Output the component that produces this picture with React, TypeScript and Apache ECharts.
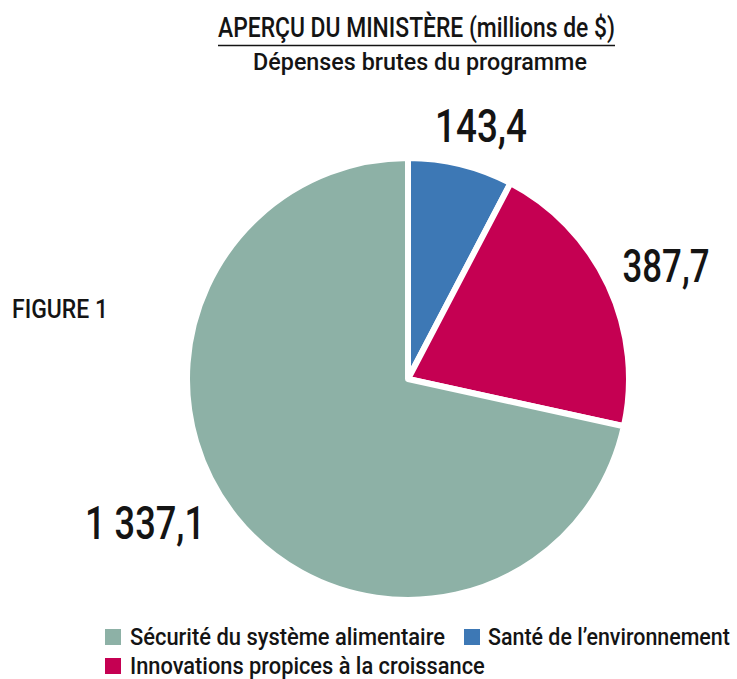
import React, { useEffect, useRef } from "react";
import * as echarts from "echarts";

const categories = [
  "Santé de l’environnement",
  "Innovations propices à la croissance",
  "Sécurité du système alimentaire",
];
const values = [143.4, 387.7, 1337.1];
const colors = ["#3d78b5", "#c50052", "#8db1a6"];
const legendOrder = [
  "Sécurité du système alimentaire",
  "Santé de l’environnement",
  "Innovations propices à la croissance",
];
const titleText = "APERÇU DU MINISTÈRE (millions de $)";
const subtitleText = "Dépenses brutes du programme";
const figureText = "FIGURE 1";

const FONT = "Roboto, 'Noto Sans', sans-serif";
const INK = "#141414";

function fmt(v: number): string {
  const [i, d] = v.toFixed(1).split(".");
  const withSpaces = i.replace(/\B(?=(\d{3})+(?!\d))/g, " ");
  return withSpaces + "," + d;
}

let measureCtx: CanvasRenderingContext2D | null = null;
function measure(text: string, size: number, weight: number): number {
  if (!measureCtx) measureCtx = document.createElement("canvas").getContext("2d");
  if (!measureCtx) return text.length * size * 0.5;
  measureCtx.font = `${weight} ${size}px ${FONT}`;
  return measureCtx.measureText(text).width;
}

// condensed text: fit text to a target width by horizontal scaling
function ctext(
  text: string,
  x: number,
  y: number,
  size: number,
  weight: number,
  targetWidth: number,
  align: "left" | "center" = "left"
) {
  const w = measure(text, size, weight);
  const sx = w > 0 ? targetWidth / w : 1;
  return {
    type: "text",
    x,
    y,
    scaleX: sx,
    silent: true,
    style: {
      text,
      fill: INK,
      font: `${weight} ${size}px ${FONT}`,
      align,
      verticalAlign: "middle",
    },
  };
}

export default function App() {
  const ref = useRef<HTMLDivElement>(null);
  useEffect(() => {
    if (!ref.current) return;
    const chart = echarts.init(ref.current, undefined, { renderer: "svg" });

    const colorOf = (name: string) => colors[categories.indexOf(name)];
    const valueOf = (name: string) => values[categories.indexOf(name)];

    // label anchors (layout): [x, y, targetWidth]
    const labelLayout: Record<string, [number, number, number]> = {
      "Santé de l’environnement": [481, 126, 92],
      "Innovations propices à la croissance": [666, 266, 87],
      "Sécurité du système alimentaire": [145, 523, 120],
    };
    const valueLabels = categories.map((c) => {
      const [x, y, w] = labelLayout[c];
      return ctext(fmt(valueOf(c)), x, y, 46, 500, w, "center");
    });

    // legend layout: [squareX, squareY, textX, textWidth]
    const legendLayout: [number, number, number, number][] = [
      [105, 629, 130, 315],
      [464, 629, 488, 242],
      [105, 658, 130, 355],
    ];
    const legendEls: any[] = [];
    legendOrder.forEach((name, i) => {
      const [sx, sy, tx, tw] = legendLayout[i];
      legendEls.push({
        type: "rect",
        shape: { x: sx, y: sy, width: 16, height: 16 },
        style: { fill: colorOf(name) },
        silent: true,
      });
      legendEls.push(ctext(name, tx, sy + 8, 23, 500, tw, "left"));
    });

    chart.setOption({
      animation: false,
      backgroundColor: "#ffffff",
      graphic: [
        ctext(titleText, 416.5, 27.5, 27, 500, 397, "center"),
        {
          type: "line",
          shape: { x1: 218, y1: 45.5, x2: 615, y2: 45.5 },
          style: { stroke: INK, lineWidth: 1.5 },
          silent: true,
        },
        ctext(subtitleText, 420, 62, 24, 500, 334, "center"),
        ctext(figureText, 12, 309, 26, 500, 96, "left"),
        ...valueLabels,
        ...legendEls,
      ],
      series: [
        {
          type: "pie",
          center: [408, 379],
          radius: [0, 221],
          startAngle: 90,
          clockwise: true,
          itemStyle: { borderColor: "#ffffff", borderWidth: 6 },
          label: { show: false },
          labelLine: { show: false },
          emphasis: { disabled: true },
          data: categories.map((c, i) => ({
            name: c,
            value: values[i],
            itemStyle: { color: colors[i] },
          })),
        },
      ],
    });
    return () => chart.dispose();
  }, []);
  return (
    <div
      ref={ref}
      style={{ position: "absolute", left: 0, top: 0, width: 737, height: 679 }}
    />
  );
}
